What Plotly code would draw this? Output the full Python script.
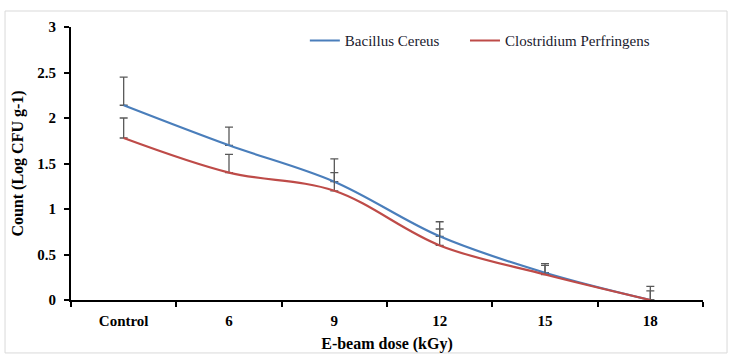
import plotly.graph_objects as go

# data
doses = ["Control", "6", "9", "12", "15", "18"]

bacillus = [2.14, 1.70, 1.30, 0.70, 0.30, 0.0]
bacillus_err = [0.31, 0.20, 0.25, 0.16, 0.10, 0.15]

clostridium = [1.78, 1.40, 1.20, 0.60, 0.28, 0.0]
clostridium_err = [0.22, 0.20, 0.20, 0.18, 0.10, 0.10]

ERR_COLOR = "#595959"
FONT = "Liberation Serif"

fig = go.Figure()

fig.add_trace(go.Scatter(
    x=doses, y=bacillus, name="Bacillus Cereus", mode="lines",
    line=dict(color="#4a7ebb", width=2.2, shape="spline", smoothing=1.0),
    error_y=dict(type="data", array=bacillus_err, arrayminus=[0] * len(doses),
                 symmetric=False, color=ERR_COLOR, thickness=1.3, width=4),
    legend="legend",
))

fig.add_trace(go.Scatter(
    x=doses, y=clostridium, name="Clostridium Perfringens", mode="lines",
    line=dict(color="#be4b48", width=2.2, shape="spline", smoothing=1.0),
    error_y=dict(type="data", array=clostridium_err, arrayminus=[0] * len(doses),
                 symmetric=False, color=ERR_COLOR, thickness=1.3, width=4),
    legend="legend2",
))

# light frame round the whole chart
fig.add_shape(type="rect", xref="paper", yref="paper",
              x0=-0.1044, x1=1.038, y0=-0.194, y1=1.0586,
              line=dict(color="#d9d9d9", width=1), layer="above")

legend_style = dict(orientation="h", y=1.01, xanchor="left", yanchor="top",
                    font=dict(family=FONT, size=15, color="#1a1a2e"),
                    bgcolor="rgba(0,0,0,0)", itemwidth=30)

fig.update_layout(
    width=735, height=361,
    margin=dict(l=71, r=32, t=27, b=61),
    plot_bgcolor="white", paper_bgcolor="white",
    font=dict(family=FONT, color="black", size=15),
    showlegend=True,
    legend=dict(x=0.37, **legend_style),
    legend2=dict(x=0.6234, **legend_style),
    xaxis=dict(
        type="category", range=[-0.5, 5.5], tickson="boundaries",
        showline=True, linecolor="black", linewidth=2,
        ticks="outside", ticklen=5, tickwidth=2, tickcolor="black",
        ticklabelstandoff=6,
        showgrid=False, zeroline=False,
        tickfont=dict(family=FONT, size=15, color="black", weight="bold"),
        title=dict(text="<b>E-beam dose (kGy)</b>", font=dict(family=FONT, size=16), standoff=10),
    ),
    yaxis=dict(
        range=[0, 3], dtick=0.5,
        showline=True, linecolor="black", linewidth=2,
        ticks="outside", ticklen=5, tickwidth=2, tickcolor="black",
        ticklabelstandoff=5,
        showgrid=False, zeroline=False,
        tickfont=dict(family=FONT, size=15, color="black", weight="bold"),
        title=dict(text="<b>Count (Log CFU g-1)</b>", font=dict(family=FONT, size=16), standoff=10),
    ),
)

# drop the browser's default body margin so the figure sits at the page corner
fig.write_html("out.html", config={"displayModeBar": False},
               post_script="document.body.style.margin='0';")
